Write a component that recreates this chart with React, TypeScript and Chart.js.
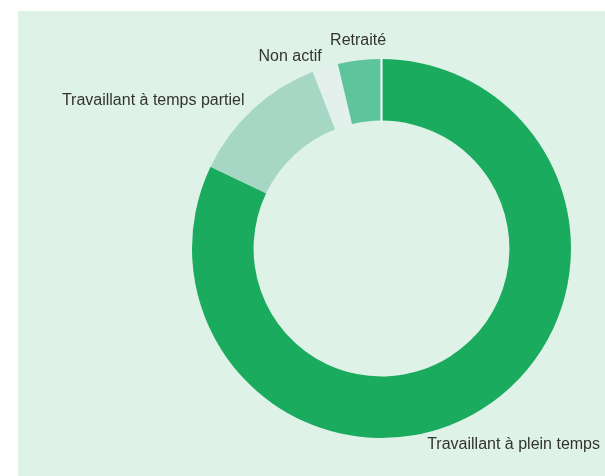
import React, { useEffect, useRef } from "react";
import { Chart, registerables } from "chart.js";

Chart.register(...registerables);

const categories = [
  "Travaillant à plein temps",
  "Travaillant à temps partiel",
  "Non actif",
  "Retraité",
];
const values = [82.1, 12.0, 2.2, 3.7];
const colors = ["#1aab5f", "#a5d7c4", "#e4f0eb", "#5ec49b"];

const labelPlugin = {
  id: "outerLabels",
  afterDatasetsDraw(chart: any) {
    const ctx = chart.ctx;
    const meta = chart.getDatasetMeta(0);
    const labels = chart.data.labels as string[];
    ctx.save();
    // white separator at the start of the first slice
    const first = meta.data[0];
    if (first) {
      const p = first.getProps(["x", "y", "startAngle", "innerRadius", "outerRadius"], true);
      ctx.strokeStyle = "#ffffff";
      ctx.lineWidth = 2;
      ctx.beginPath();
      ctx.moveTo(p.x + Math.cos(p.startAngle) * (p.innerRadius - 1), p.y + Math.sin(p.startAngle) * (p.innerRadius - 1));
      ctx.lineTo(p.x + Math.cos(p.startAngle) * (p.outerRadius + 1), p.y + Math.sin(p.startAngle) * (p.outerRadius + 1));
      ctx.stroke();
    }
    ctx.font = '16px "Liberation Sans", Arial, sans-serif';
    ctx.fillStyle = "#333333";
    ctx.textBaseline = "middle";
    const h = 16;
    meta.data.forEach((arc: any, i: number) => {
      const p = arc.getProps(["x", "y", "startAngle", "endAngle", "outerRadius"], true);
      const mid = (p.startAngle + p.endAngle) / 2;
      const r = p.outerRadius + 12;
      const c = Math.cos(mid);
      const s = Math.sin(mid);
      let ax = p.x + r * c;
      let ay = p.y + r * s;
      const text = labels[i];
      const w = ctx.measureText(text).width;
      let align: CanvasTextAlign;
      if (Math.abs(c) < 0.2) {
        align = "center";
        ay += (s * h) / 2;
      } else if (c > 0) {
        align = "left";
        if (ax + w > chart.width - 5) {
          ax = chart.width - 5 - w;
          const dx = ax - p.x;
          const dy = Math.sqrt(Math.max(0, r * r - dx * dx));
          ay = p.y + (s >= 0 ? dy : -dy);
        }
      } else {
        align = "right";
        if (ax - w < 5) {
          ax = 5 + w;
          const dx = ax - p.x;
          const dy = Math.sqrt(Math.max(0, r * r - dx * dx));
          ay = p.y + (s >= 0 ? dy : -dy);
        }
      }
      ctx.textAlign = align;
      ctx.fillText(text, ax, ay);
    });
    ctx.restore();
  },
};

export default function App() {
  const ref = useRef<HTMLCanvasElement>(null);
  useEffect(() => {
    if (!ref.current) return;
    const chart = new Chart(ref.current, {
      type: "doughnut",
      data: {
        labels: categories,
        datasets: [
          {
            data: values,
            backgroundColor: colors,
            borderWidth: 0,
            hoverOffset: 0,
          },
        ],
      },
      options: {
        responsive: false,
        animation: false,
        cutout: "67.5%",
        events: [],
        layout: { padding: { top: 59, bottom: 38, left: 192, right: 34 } },
        plugins: {
          legend: { display: false },
          tooltip: { enabled: false },
        },
      },
      plugins: [labelPlugin],
    });
    return () => chart.destroy();
  }, []);
  return (
    <div style={{ position: "absolute", left: 0, top: 0, width: 605, height: 476, background: "#ffffff", overflow: "hidden" }}>
      <div style={{ position: "absolute", left: 18, top: 11, right: 0, bottom: 0, background: "#dff2e8" }} />
      <canvas ref={ref} width={605} height={476} style={{ position: "absolute", left: 0, top: 0, width: 605, height: 476 }} />
    </div>
  );
}
